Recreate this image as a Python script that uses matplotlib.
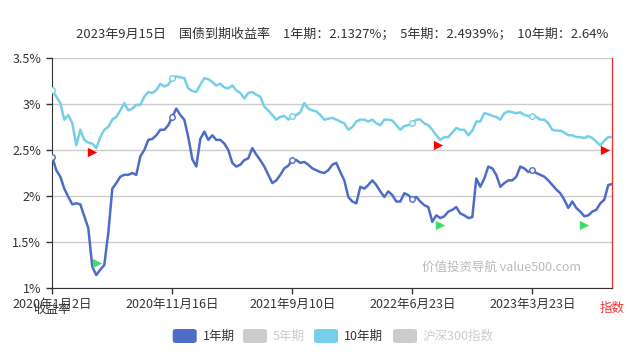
import matplotlib
matplotlib.use("Agg")
from matplotlib import pyplot as plt
from matplotlib.patches import FancyBboxPatch

plt.rcParams['font.family'] = ['Noto Sans CJK SC', 'DejaVu Sans']

# yields sampled along the trading-day axis (one sample ~ every 4 px)
y1 = [2.42, 2.28, 2.21, 2.08, 1.99, 1.91, 1.92, 1.91, 1.78, 1.65,
      1.23, 1.14, 1.20, 1.25, 1.60, 2.08, 2.14, 2.21, 2.23, 2.23,
      2.25, 2.23, 2.43, 2.50, 2.61, 2.62, 2.66, 2.72, 2.72, 2.77,
      2.86, 2.95, 2.88, 2.83, 2.64, 2.40, 2.32, 2.62, 2.70, 2.61,
      2.66, 2.61, 2.61, 2.57, 2.50, 2.36, 2.32, 2.34, 2.39, 2.41,
      2.52, 2.45, 2.39, 2.32, 2.23, 2.14, 2.17, 2.23, 2.30, 2.33,
      2.39, 2.39, 2.36, 2.37, 2.34, 2.30, 2.28, 2.26, 2.25, 2.28,
      2.34, 2.36, 2.26, 2.17, 1.99, 1.94, 1.92, 2.10, 2.08, 2.12,
      2.17, 2.12, 2.05, 1.99, 2.05, 2.01, 1.94, 1.94, 2.03, 2.01,
      1.97, 1.99, 1.94, 1.90, 1.88, 1.72, 1.79, 1.76, 1.78, 1.83,
      1.85, 1.88, 1.81, 1.79, 1.76, 1.77, 2.19, 2.10, 2.19, 2.32,
      2.30, 2.23, 2.10, 2.14, 2.17, 2.17, 2.21, 2.32, 2.30, 2.26,
      2.28, 2.25, 2.23, 2.21, 2.17, 2.12, 2.07, 2.03, 1.96, 1.87,
      1.94, 1.87, 1.83, 1.78, 1.79, 1.83, 1.85, 1.92, 1.96, 2.12,
      2.13]
y10 = [3.15, 3.08, 3.01, 2.83, 2.88, 2.79, 2.55, 2.72, 2.61, 2.58,
       2.57, 2.52, 2.64, 2.72, 2.75, 2.83, 2.86, 2.93, 3.01, 2.93,
       2.95, 2.99, 2.99, 3.08, 3.13, 3.12, 3.15, 3.22, 3.19, 3.21,
       3.28, 3.30, 3.29, 3.28, 3.17, 3.14, 3.13, 3.21, 3.28, 3.27,
       3.24, 3.20, 3.22, 3.18, 3.17, 3.20, 3.15, 3.12, 3.06, 3.12,
       3.13, 3.10, 3.08, 2.97, 2.93, 2.88, 2.83, 2.86, 2.87, 2.83,
       2.87, 2.88, 2.91, 3.01, 2.95, 2.93, 2.92, 2.88, 2.83, 2.84,
       2.85, 2.83, 2.81, 2.79, 2.72, 2.75, 2.81, 2.83, 2.83, 2.81,
       2.83, 2.79, 2.77, 2.83, 2.83, 2.82, 2.77, 2.72, 2.76, 2.77,
       2.79, 2.83, 2.83, 2.79, 2.77, 2.72, 2.66, 2.61, 2.64, 2.64,
       2.69, 2.74, 2.72, 2.72, 2.66, 2.71, 2.81, 2.81, 2.90, 2.89,
       2.87, 2.86, 2.83, 2.90, 2.92, 2.91, 2.90, 2.91, 2.88, 2.87,
       2.87, 2.86, 2.83, 2.83, 2.79, 2.72, 2.71, 2.71, 2.69, 2.66,
       2.66, 2.64, 2.64, 2.63, 2.65, 2.63, 2.59, 2.55, 2.60, 2.64,
       2.64]
tick_pos = [0, 30, 60, 90, 120]
tick_labels = ["2020年1月2日", "2020年11月16日", "2021年9月10日", "2022年6月23日", "2023年3月23日"]
y_ticks = [1.0, 1.5, 2.0, 2.5, 3.0, 3.5]
y_labels = ["1%", "1.5%", "2%", "2.5%", "3%", "3.5%"]
# signal markers (index, value)
red_x, red_y = [9.8, 96.5, 138.2], [2.48, 2.55, 2.50]
green_x, green_y = [11.1, 96.9, 132.9], [1.27, 1.68, 1.69]
series_names = ["1年期", "5年期", "10年期", "沪深300指数"]
title = "2023年9月15日　国债到期收益率　1年期：2.1327%；  5年期：2.4939%；  10年期：2.64%"

c1 = "#4f6cc6"
c10 = "#76cfe8"

fig = plt.figure(figsize=(6.32, 3.6), dpi=100)
ax = fig.add_axes([52.3 / 632, 1 - 288 / 360, 560 / 632, 230 / 360])

x = list(range(len(y1)))
ax.plot(x, y10, color=c10, lw=1.8, marker="o", markevery=tick_pos, ms=4,
        mfc="white", mec=c10, mew=1, zorder=3)
ax.plot(x, y1, color=c1, lw=1.8, marker="o", markevery=tick_pos, ms=4,
        mfc="white", mec=c1, mew=1, zorder=3)
ax.scatter(red_x, red_y, marker=">", s=45, color="#ff0000", zorder=4, lw=0)
ax.scatter(green_x, green_y, marker=">", s=45, color="#3ddc6f", zorder=4, lw=0)

ax.set_xlim(0, 140)
ax.set_ylim(1.0, 3.5)
ax.set_xticks(tick_pos)
ax.set_xticklabels(tick_labels, fontsize=9, color="#333333")
ax.set_yticks(y_ticks)
ax.set_yticklabels(y_labels, fontsize=9, color="#333333")
ax.tick_params(axis="both", length=4, width=1, color="#333333", pad=3)
ax.tick_params(axis="y", pad=4)
ax.grid(axis="y", color="#cccccc", lw=1)
ax.set_axisbelow(True)
ax.spines["top"].set_visible(False)
ax.spines["left"].set_color("#333333")
ax.spines["bottom"].set_color("#333333")
ax.spines["right"].set_color("#ee3333")
ax.spines["right"].set_linewidth(1)

fig.text(342 / 632, 1 - 35 / 360, title, ha="center", va="center", fontsize=9.4, color="#333333")
fig.text(52 / 632, 1 - 309 / 360, "收益率", ha="center", va="center", fontsize=9, color="#333333")
fig.text(612 / 632, 1 - 308 / 360, "指数", ha="center", va="center", fontsize=9, color="#ee3333")
fig.text(501 / 632, 1 - 267 / 360, "价值投资导航 value500.com", ha="center", va="center",
         fontsize=9, color="#bbbbbb")

# legend
active = [c1, None, c10, None]
icon_x = [172.7, 243, 314, 393]
for name, col, ix in zip(series_names, active, icon_x):
    fc = col if col else "#cccccc"
    tc = "#333333" if col else "#cccccc"
    box = FancyBboxPatch((ix / 632, 1 - 343 / 360), 24 / 632, 14 / 360,
                         boxstyle="round,pad=0,rounding_size=0.006",
                         transform=fig.transFigure, fc=fc, ec="none")
    fig.patches.append(box)
    fig.text((ix + 30) / 632, 1 - 336 / 360, name, ha="left", va="center",
             fontsize=9, color=tc)

fig.savefig("out.png", dpi=100)
